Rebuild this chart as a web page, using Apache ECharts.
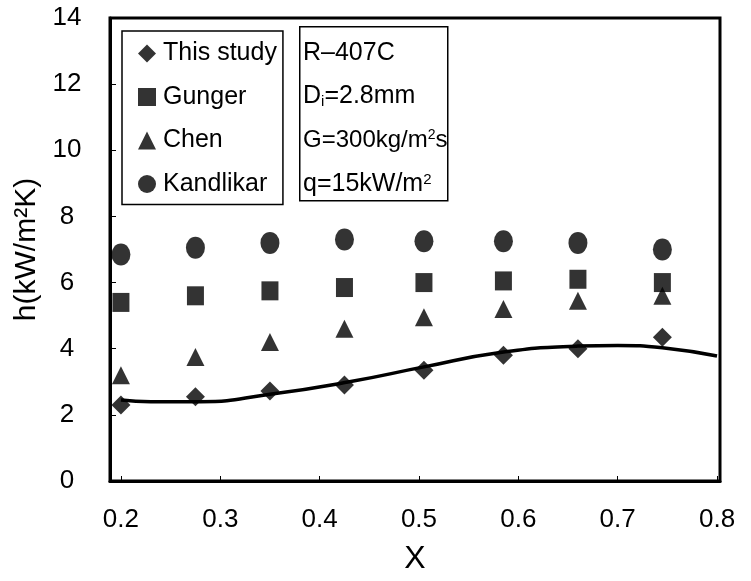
<!DOCTYPE html>
<html>
<head>
<meta charset="utf-8">
<script src="https://cdn.jsdelivr.net/npm/echarts@6/dist/echarts.min.js"></script>
<style>
html,body{margin:0;padding:0;background:#fff;}
#chart{width:751px;height:581px;}
</style>
</head>
<body>
<div id="chart"></div>
<script>
// Quality x (shared by all series)
var quality = [0.2, 0.275, 0.35, 0.425, 0.505, 0.585, 0.66, 0.745];
// Heat transfer coefficient h (kW/m2K)
var thisStudy = [2.3, 2.55, 2.72, 2.9, 3.35, 3.8, 4.0, 4.35];
var gunger    = [5.4, 5.6, 5.75, 5.85, 6.0, 6.05, 6.1, 6.0];
var chen      = [3.2, 3.75, 4.2, 4.6, 4.95, 5.2, 5.45, 5.6];
var kandlikar = [6.85, 7.05, 7.2, 7.3, 7.25, 7.25, 7.2, 7.0];
// Fitted curve
var curveX = [0.2, 0.23, 0.28, 0.35, 0.43, 0.505, 0.58, 0.66, 0.7, 0.745, 0.8];
var curveY = [2.45, 2.4, 2.4, 2.62, 3.0, 3.45, 3.88, 4.08, 4.1, 4.03, 3.78];
var xTicks = [0.2, 0.3, 0.4, 0.5, 0.6, 0.7, 0.8];
var yTicks = [0, 2, 4, 6, 8, 10, 12, 14];
var infoLines = ['R\u2013407C', 'D{sub|i}=2.8mm', 'G=300kg/m{sup|2}s', 'q=15kW/m{sup|2}'];

function pairs(xs, ys){ return xs.map(function(x,i){ return [x, ys[i]]; }); }

var FONT = 'Liberation Sans';
var chart = echarts.init(document.getElementById('chart'), null, {renderer:'canvas'});
var baseSeries = {type:'scatter', itemStyle:{color:'#000'}, z:3};
chart.setOption({
  animation:false,
  backgroundColor:'#fff',
  textStyle:{fontFamily:FONT, color:'#000'},
  grid:{left:110, right:31, top:18, bottom:100, show:true, borderColor:'#000', borderWidth:3},
  xAxis:{
    type:'value', min:0.189, max:0.803,
    name:'X', nameLocation:'middle', nameGap:62,
    nameTextStyle:{fontSize:32, color:'#000', fontFamily:FONT},
    axisLine:{show:true, lineStyle:{color:'#000', width:3}},
    axisTick:{show:true, inside:true, length:5, customValues:xTicks, lineStyle:{color:'#000'}},
    splitLine:{show:false},
    axisLabel:{fontSize:26, color:'#000', margin:26, fontFamily:FONT, customValues:xTicks,
      formatter:function(v){ return (+v).toFixed(1); }}
  },
  yAxis:{
    type:'value', min:0, max:14, interval:2,
    name:'h(kW/m\u00b2K)', nameLocation:'middle', nameGap:66,
    nameTextStyle:{fontSize:30, color:'#000', fontFamily:FONT},
    axisLine:{show:true, lineStyle:{color:'#000', width:3}},
    axisTick:{show:true, inside:true, length:6, customValues:yTicks, lineStyle:{color:'#000'}},
    splitLine:{show:false},
    axisLabel:{fontSize:26, color:'#000', margin:43, align:'center', fontFamily:FONT, customValues:yTicks}
  },
  legend:{
    orient:'vertical', left:122, top:31,
    data:['This study','Gunger','Chen','Kandlikar'],
    borderColor:'#000', borderWidth:1.5, padding:[10,6,8,16],
    itemWidth:18, itemHeight:18, itemGap:18.5,
    textStyle:{fontSize:25, color:'#000', fontFamily:FONT, padding:[0,0,0,2]},
    backgroundColor:'#fff'
  },
  graphic:[
    {type:'rect', left:299, top:26, shape:{width:148, height:174}, style:{fill:'#fff', stroke:'#000', lineWidth:1.5}, z:10},
    {type:'text', left:303, top:41, z:11, style:{text:infoLines[0], fontSize:25, fontFamily:FONT, fill:'#000'}},
    {type:'text', left:303, top:84, z:11, style:{text:infoLines[1], fontSize:25, fontFamily:FONT, fill:'#000',
      rich:{sub:{fontSize:15, fontFamily:FONT, fill:'#000', verticalAlign:'bottom', padding:[10,0,0,0]}}}},
    {type:'text', left:303, top:128, z:11, style:{text:infoLines[2], fontSize:24, fontFamily:FONT, fill:'#000',
      rich:{sup:{fontSize:14, fontFamily:FONT, fill:'#000', verticalAlign:'top', padding:[0,0,10,0]}}}},
    {type:'text', left:303, top:172, z:11, style:{text:infoLines[3], fontSize:25, fontFamily:FONT, fill:'#000',
      rich:{sup:{fontSize:15, fontFamily:FONT, fill:'#000', verticalAlign:'top', padding:[0,0,10,0]}}}}
  ],
  series:[
    {type:'line', name:'curve', data:pairs(curveX, curveY), smooth:0.5, showSymbol:false, symbol:'none',
      lineStyle:{color:'#000', width:3.5}, z:2, silent:true},
    Object.assign({}, baseSeries, {name:'This study', symbol:'diamond', symbolSize:19, data:pairs(quality, thisStudy)}),
    Object.assign({}, baseSeries, {name:'Gunger', symbol:'rect', symbolSize:[17,19], data:pairs(quality, gunger)}),
    Object.assign({}, baseSeries, {name:'Chen', symbol:'triangle', symbolSize:18, data:pairs(quality, chen)}),
    Object.assign({}, baseSeries, {name:'Kandlikar', symbol:'circle', symbolSize:[19,22], data:pairs(quality, kandlikar)})
  ]
});
</script>
</body>
</html>
